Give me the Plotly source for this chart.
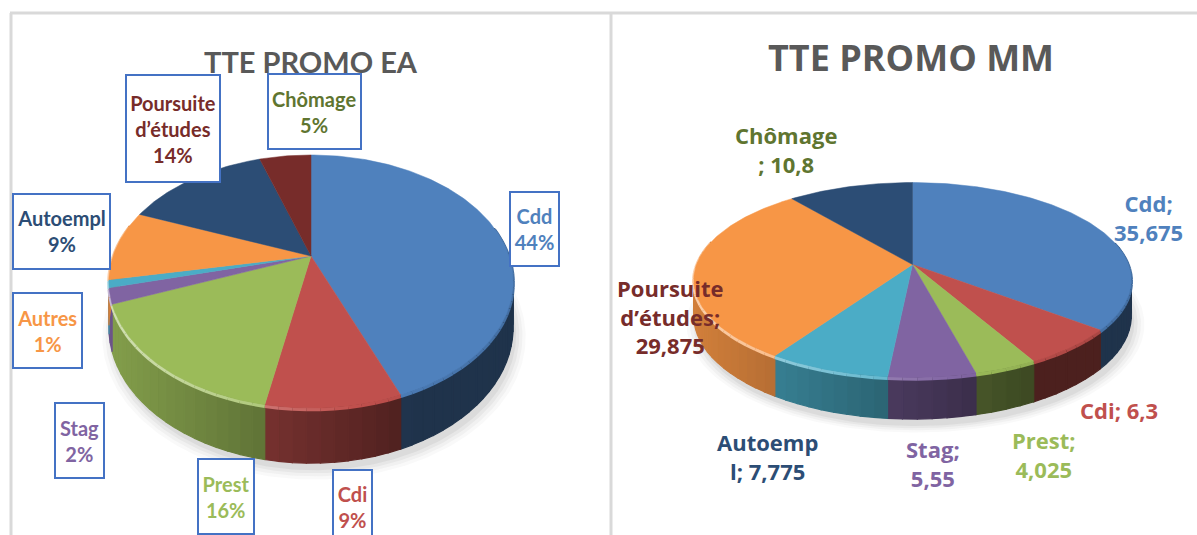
import math
import plotly.graph_objects as go

# ---- data ----
ea_values = [44, 9, 16, 2, 1, 9, 14, 5]
ea_labels = ["Cdd", "Cdi", "Prest", "Stag", "Autres", "Autoempl", "Poursuite<br>d’études", "Chômage"]
mm_values = [35.675, 6.3, 4.025, 5.55, 7.775, 29.875, 10.8]
mm_labels = ["Cdd;<br>", "Cdi; ", "Prest;<br>", "Stag;<br>", "Autoemp<br>l; ", "Poursuite<br>d’études;<br>", "Chômage<br>; "]
ea_title = "TTE PROMO EA"
mm_title = "TTE PROMO MM"

# ---- styles ----
ea_slice_colors = ["#4F81BD", "#C0504D", "#9BBB59", "#8064A2", "#4BACC6", "#F79646", "#2C4D75", "#772C2A"]
ea_text_colors = ["#4F81BD", "#C0504D", "#9BBB59", "#8064A2", "#F79646", "#2C4D75", "#772C2A", "#5F7530"]
mm_slice_colors = ["#4F81BD", "#C0504D", "#9BBB59", "#8064A2", "#4BACC6", "#F79646", "#2C4D75"]
mm_text_colors = ["#4F81BD", "#C0504D", "#9BBB59", "#8064A2", "#2C4D75", "#772C2A", "#5F7530"]

ea_geom = dict(cx=311, cy=256, A=198, B=121.4, k=0.2016, depth=44)
mm_geom = dict(cx=912.5, cy=264.5, A=216, B=95, k=0.159, depth=35)

# label boxes: x0, x1, y0, y1
ea_boxes = [(510, 559, 192, 266), (333, 372, 470, 544), (198, 254, 459, 534), (55, 104, 403, 478),
            (13, 81.5, 293, 368), (13, 110, 194.5, 269), (126, 220, 75, 182), (268, 360.5, 74, 149)]
mm_centers = [(1148, 217), (1119, 410), (1044, 454), (933, 463), (767, 456), (670, 316), (785.6, 149)]


def project(g, theta, scale=1.0):
    u, v = scale * math.sin(theta), -scale * math.cos(theta)
    w = 1 - g["k"] * v
    return g["cx"] + g["A"] * u / w, g["cy"] + g["B"] * v / w, g["depth"] / w


def rgb(hex_color, f):
    vals = [int(hex_color[i:i + 2], 16) for i in (1, 3, 5)]
    if f <= 1:
        vals = [v * f for v in vals]
    else:
        vals = [v + (255 - v) * (f - 1) for v in vals]
    return "rgb(%d,%d,%d)" % tuple(vals)


fig = go.Figure()


def poly(xs, ys, color, width=1.2):
    fig.add_trace(go.Scatter(x=xs, y=ys, mode="lines", fill="toself", fillcolor=color,
                             line=dict(color=color, width=width), hoverinfo="skip", showlegend=False))


def draw_pie(values, colors, g):
    total = sum(values)
    # soft shadow
    steps = 360
    for s, alpha in [(1.045, .035), (1.03, .05), (1.015, .06), (1.0, .08)]:
        pts = [project(g, 2 * math.pi * i / steps, s) for i in range(steps + 1)]
        col = "rgba(90,90,90,%.3f)" % alpha
        fig.add_trace(go.Scatter(x=[p[0] + 3 for p in pts], y=[p[1] + p[2] + 7 for p in pts], mode="lines",
                                 fill="toself", fillcolor=col, line=dict(width=0),
                                 hoverinfo="skip", showlegend=False))
    halfwidth = g["A"] / math.sqrt(1 - g["k"] ** 2)
    start = 0.0
    slices = []
    for val, col in zip(values, colors):
        end = start + val / total * 2 * math.pi
        slices.append((start, end, col))
        start = end
    # walls (only the part facing the viewer)
    rims = []
    for a0, a1, col in slices:
        n = max(1, int((a1 - a0) / math.radians(3)))
        for i in range(n):
            t0 = a0 + (a1 - a0) * i / n
            t1 = a0 + (a1 - a0) * (i + 1) / n
            if math.cos((t0 + t1) / 2) > 0.25:
                continue
            x0, y0, d0 = project(g, t0)
            x1, y1, d1 = project(g, t1)
            t = (((x0 + x1) / 2 - g["cx"]) / halfwidth + 1) / 2
            f = max(0.4, 0.85 - 0.6 * t)
            poly([x0, x1, x1, x0, x0], [y0, y1, y1 + d1, y0 + d0, y0], rgb(col, f))
            rim = 1.55 - 0.9 * t
            rims.append(([x0, x1], [y0 + 1.5, y1 + 1.5], rgb(col, rim if rim > 1 else max(0.8, 0.6 + rim * 0.4))))
    for xs, ys, c in rims:
        fig.add_trace(go.Scatter(x=xs, y=ys, mode="lines", line=dict(color=c, width=3.5),
                                 hoverinfo="skip", showlegend=False))
    # top surface
    for a0, a1, col in slices:
        n = max(2, int((a1 - a0) / math.radians(1)))
        pts = [project(g, a0 + (a1 - a0) * i / n) for i in range(n + 1)]
        poly([g["cx"]] + [p[0] for p in pts] + [g["cx"]], [g["cy"]] + [p[1] for p in pts] + [g["cy"]], col, 0.5)


draw_pie(ea_values, ea_slice_colors, ea_geom)
draw_pie(mm_values, mm_slice_colors, mm_geom)

annotations = [
    dict(x=310.5, y=61, text=f"<b>{ea_title}</b>", font=dict(family="Lato", size=29, color="#595959")),
    dict(x=910.5, y=57, text=f"<b>{mm_title}</b>", font=dict(family="Open Sans", size=36, color="#595959")),
]
for lab, val, col, (x0, x1, y0, y1) in zip(ea_labels, ea_values, ea_text_colors, ea_boxes):
    annotations.append(dict(
        x=(x0 + x1) / 2, y=(y0 + y1) / 2, width=x1 - x0 - 2, height=y1 - y0 - 2,
        text=f"<b>{lab}<br>{val}%</b>", align="center", valign="middle",
        font=dict(family="Lato", size=20, color=col),
        bgcolor="white", bordercolor="#4472C4", borderwidth=2, borderpad=0))
for lab, val, col, (x, y) in zip(mm_labels, mm_values, mm_text_colors, mm_centers):
    annotations.append(dict(
        x=x, y=y, text=f"<b>{lab}{str(val).replace('.', ',')}</b>", align="center",
        font=dict(family="Open Sans", size=22, color=col)))
for a in annotations:
    a.update(xref="x", yref="y", showarrow=False, xanchor="center", yanchor="middle")

frame = dict(color="#D9D9D9", width=3)
shapes = [
    dict(type="line", xref="x", yref="y", x0=10, x1=1197, y0=13, y1=13, line=frame, layer="below"),
    dict(type="line", xref="x", yref="y", x0=11, x1=11, y0=13, y1=535, line=frame, layer="below"),
    dict(type="line", xref="x", yref="y", x0=611, x1=611, y0=13, y1=535, line=frame, layer="below"),
]

fig.update_layout(
    width=1197, height=535, autosize=False,
    margin=dict(l=0, r=0, t=0, b=0),
    paper_bgcolor="white", plot_bgcolor="white",
    xaxis=dict(range=[0, 1197], visible=False, fixedrange=True),
    yaxis=dict(range=[535, 0], visible=False, fixedrange=True),
    annotations=annotations, shapes=shapes, showlegend=False,
)
fig.write_html("out.html", config=dict(displayModeBar=False),
               post_script="document.body.style.margin='0';document.documentElement.style.overflow='hidden';")
